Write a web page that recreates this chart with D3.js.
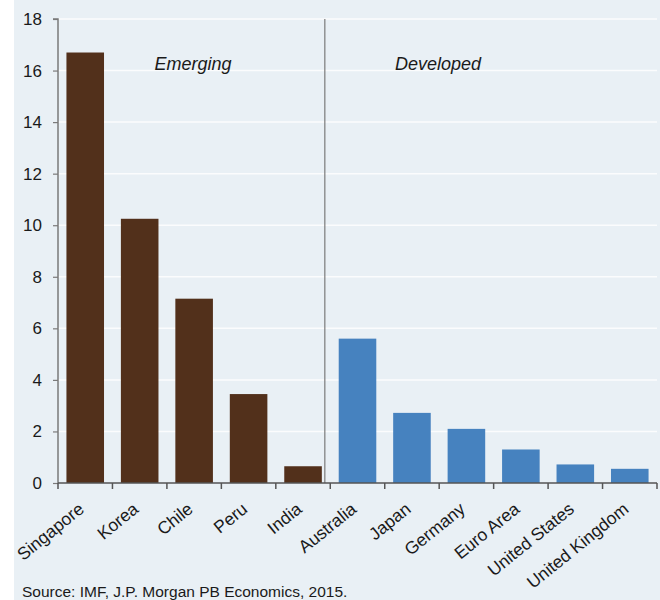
<!DOCTYPE html>
<html>
<head>
<meta charset="utf-8">
<script src="https://cdn.jsdelivr.net/npm/d3@7"></script>
<style>
  body { margin: 0; background: #fff; }
  text { font-family: "Liberation Sans", Arial, sans-serif; }
</style>
</head>
<body>
<svg id="chart" width="660" height="600"></svg>
<script>
const categories = ["Singapore", "Korea", "Chile", "Peru", "India",
    "Australia", "Japan", "Germany", "Euro Area", "United States", "United Kingdom"];
const values = [16.7, 10.25, 7.15, 3.45, 0.65, 5.6, 2.72, 2.1, 1.3, 0.72, 0.55];
const groups = ["Emerging", "Emerging", "Emerging", "Emerging", "Emerging",
    "Developed", "Developed", "Developed", "Developed", "Developed", "Developed"];
const yTicks = [0, 2, 4, 6, 8, 10, 12, 14, 16, 18];
const source = "Source: IMF, J.P. Morgan PB Economics, 2015.";

const margin = {top: 19, right: 3, bottom: 117, left: 58};
const width = 660, height = 600;

const svg = d3.select("#chart");

svg.append("rect")
    .attr("x", 14).attr("y", 0)
    .attr("width", width - 14).attr("height", height)
    .attr("fill", "#e9f0f5");

const x = d3.scaleBand()
    .domain(categories)
    .range([margin.left, width - margin.right])
    .paddingInner(0.31)
    .paddingOuter(0.155);

const y = d3.scaleLinear()
    .domain([0, 18])
    .range([height - margin.bottom, margin.top]);

const color = d3.scaleOrdinal()
    .domain(["Emerging", "Developed"])
    .range(["#52301b", "#4682bf"]);

// gridlines
svg.append("g")
    .selectAll("line")
    .data(yTicks.filter(d => d > 0))
    .join("line")
    .attr("x1", margin.left).attr("x2", width - margin.right)
    .attr("y1", d => y(d)).attr("y2", d => y(d))
    .attr("stroke", "#fbfcfd")
    .attr("stroke-width", 1.5);

// bars
svg.append("g")
    .selectAll("rect")
    .data(categories)
    .join("rect")
    .attr("x", d => x(d))
    .attr("y", (d, i) => y(values[i]))
    .attr("width", x.bandwidth())
    .attr("height", (d, i) => y(0) - y(values[i]))
    .attr("fill", (d, i) => color(groups[i]));

// divider between groups
const step = x.step();
const xDiv = margin.left + step * 5 - step * 0.1;
svg.append("line")
    .attr("x1", xDiv).attr("x2", xDiv)
    .attr("y1", y(18)).attr("y2", y(0))
    .attr("stroke", "#7a7a7a")
    .attr("stroke-width", 1.2);

// group labels
svg.append("g")
    .selectAll("text")
    .data([{name: "Emerging", cx: 193}, {name: "Developed", cx: 438}])
    .join("text")
    .attr("x", d => d.cx)
    .attr("y", 70)
    .attr("text-anchor", "middle")
    .attr("font-style", "italic")
    .attr("font-size", 18)
    .attr("fill", "#1a1a1a")
    .text(d => d.name);

// y axis
const yAxis = svg.append("g")
    .attr("transform", `translate(${margin.left},0)`)
    .call(d3.axisLeft(y).tickValues(yTicks).tickSize(5).tickPadding(11));
yAxis.select(".domain").attr("stroke", "#7a7a7a").attr("stroke-width", 1.5)
    .attr("d", `M-5,${y(18)}H0V${y(0)}`);
yAxis.selectAll(".tick line").attr("stroke", "#7a7a7a").attr("stroke-width", 1.2);
yAxis.selectAll(".tick text")
    .attr("font-size", 17)
    .attr("fill", "#1a1a1a")
    .attr("font-family", "Liberation Sans, Arial, sans-serif");

// x axis: ticks at band boundaries
const xAxisG = svg.append("g")
    .attr("transform", `translate(0,${y(0)})`);
xAxisG.append("line")
    .attr("x1", margin.left).attr("x2", width - margin.right)
    .attr("stroke", "#555").attr("stroke-width", 1.5);
const boundaries = d3.range(categories.length + 1).map(i => margin.left + step * i);
xAxisG.selectAll(".bt")
    .data(boundaries)
    .join("line")
    .attr("class", "bt")
    .attr("x1", d => d).attr("x2", d => d)
    .attr("y1", 0).attr("y2", 6)
    .attr("stroke", "#555").attr("stroke-width", 1.5);

xAxisG.selectAll(".lbl")
    .data(categories)
    .join("text")
    .attr("class", "lbl")
    .attr("transform", d => `translate(${x(d) + x.bandwidth() / 2},${28}) rotate(-39)`)
    .attr("text-anchor", "end")
    .attr("font-size", 17.5)
    .attr("fill", "#1a1a1a")
    .text(d => d);

// source
svg.append("text")
    .attr("x", 22).attr("y", 597)
    .attr("font-size", 15.5)
    .attr("fill", "#1a1a1a")
    .text(source);
</script>
</body>
</html>
